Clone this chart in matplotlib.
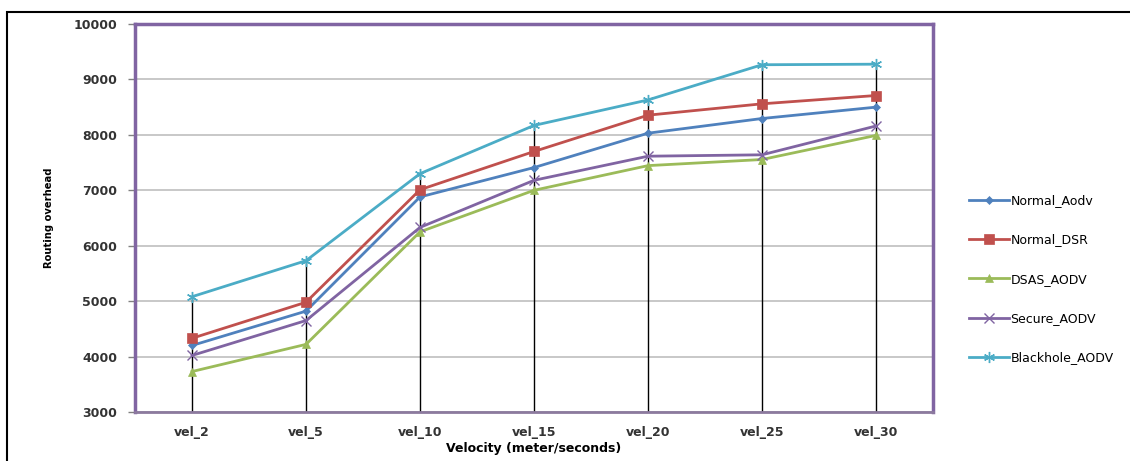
import matplotlib.pyplot as plt
import matplotlib.patches as patches
import numpy as np

categories = ["vel_2", "vel_5", "vel_10", "vel_15", "vel_20", "vel_25", "vel_30"]
normal_aodv = [4200, 4820, 6880, 7410, 8030, 8295, 8500]
normal_dsr = [4330, 4980, 7010, 7700, 8355, 8560, 8710]
dsas_aodv = [3730, 4220, 6250, 7000, 7445, 7555, 7990]
secure_aodv = [4020, 4650, 6330, 7180, 7615, 7640, 8160]
blackhole_aodv = [5080, 5730, 7300, 8170, 8630, 9265, 9275]

series = [
    ("Normal_Aodv", normal_aodv, "#4F81BD", "D", 4),
    ("Normal_DSR", normal_dsr, "#C0504D", "s", 7),
    ("DSAS_AODV", dsas_aodv, "#9BBB59", "^", 6),
    ("Secure_AODV", secure_aodv, "#8064A2", "x", 7),
    ("Blackhole_AODV", blackhole_aodv, "#4BACC6", (6, 2, 0), 8),
]

x = np.arange(len(categories))

fig = plt.figure(figsize=(11.3, 4.61), dpi=100)
ax = fig.add_axes([135 / 1130, 1 - 412 / 461, 798 / 1130, 388 / 461])

# outer frame of the chart
fig.patches.append(patches.Rectangle((7 / 1130, -0.1), 1.2, 1 - 12 / 461 + 0.1,
                                     transform=fig.transFigure, fill=False,
                                     edgecolor="black", linewidth=1.5))

ax.set_ylim(3000, 10000)
ax.set_xlim(-0.5, len(categories) - 0.5)
ax.set_yticks(np.arange(3000, 10001, 1000))
ax.grid(axis="y", color="#BFBFBF", linewidth=1.2)
ax.set_axisbelow(True)

# drop lines
tops = np.max([s[1] for s in series], axis=0)
ax.vlines(x, 3000, tops, color="black", linewidth=1.0, zorder=2)

handles = []
for name, vals, color, marker, ms in series:
    h, = ax.plot(x, vals, color=color, marker=marker, markersize=ms,
                 linewidth=2, markeredgewidth=1 if marker in ("x", (6, 2, 0)) else 0.5,
                 label=name, zorder=3)
    handles.append(h)

for side in ["left", "top", "right"]:
    ax.spines[side].set_color("#8064A2")
    ax.spines[side].set_linewidth(2.5)
ax.spines["bottom"].set_color("#8C7A9E")
ax.spines["bottom"].set_linewidth(2)

ax.set_xticks(x)
ax.set_xticklabels(categories)
ax.tick_params(axis="x", length=0, pad=10, labelsize=9, labelcolor="#333333")
ax.tick_params(axis="y", length=5, color="#808080", width=1, pad=8,
               labelsize=9, labelcolor="#333333")
for lbl in ax.get_xticklabels() + ax.get_yticklabels():
    lbl.set_fontweight("bold")

ax.set_xlabel("Velocity (meter/seconds)", fontsize=9, fontweight="bold", labelpad=2)
ax.set_ylabel("Routing overhead", fontsize=8, fontweight="bold",
              fontstretch="condensed", labelpad=14)

fig.legend(handles=handles, loc="upper left",
           bbox_to_anchor=(958 / 1130, 1 - 183 / 461), frameon=False,
           fontsize=9, labelspacing=2.1, handlelength=3.2, handletextpad=0.1)

fig.savefig("out.png", dpi=100)
